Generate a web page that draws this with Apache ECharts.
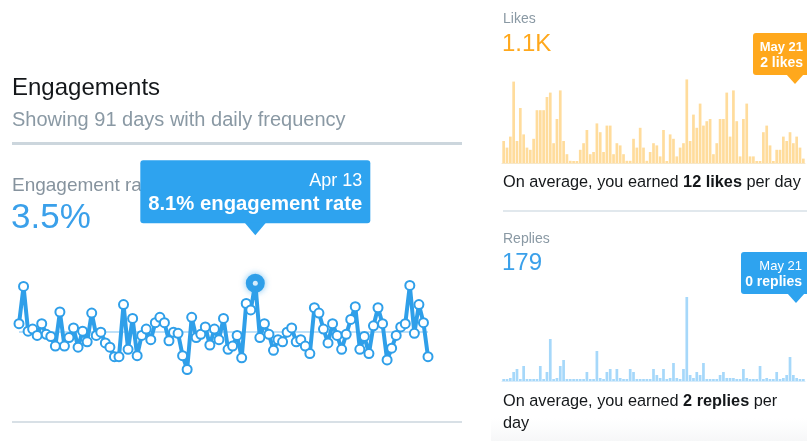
<!DOCTYPE html>
<html>
<head>
<meta charset="utf-8">
<script src="https://cdn.jsdelivr.net/npm/echarts@6/dist/echarts.min.js"></script>
<style>
  html, body { margin: 0; padding: 0; background: #fff; }
  #grafico { width: 807px; height: 441px; }
</style>
</head>
<body>
<div id="grafico"></div>
<script>
// Tasa de interacción diaria (%), 91 días
const tasaInteraccion = [4.3, 7.8, 3.6, 3.8, 3.2, 4.3, 3.3, 3.1, 2.2, 5.4,
  2.2, 3.0, 3.9, 2.1, 3.6, 2.6, 5.3, 3.2, 3.5, 2.5,
  2.1, 1.2, 1.2, 6.1, 1.9, 4.8, 1.3, 3.2, 3.8, 2.8,
  4.4, 4.9, 4.4, 2.7, 3.5, 3.4, 1.3, 0.0, 4.9, 3.0,
  3.3, 4.0, 2.3, 3.8, 2.8, 4.8, 1.9, 2.2, 3.2, 1.1,
  6.2, 5.6, 8.1, 3.0, 4.3, 3.3, 1.8, 2.8, 2.6, 3.5,
  3.9, 2.6, 2.8, 2.2, 1.5, 5.8, 5.3, 3.8, 2.5, 4.3,
  3.2, 1.9, 3.3, 4.7, 5.9, 1.9, 3.1, 1.5, 4.1, 5.8,
  4.3, 0.9, 2.0, 3.2, 4.0, 4.3, 7.9, 3.4, 6.1, 4.4, 1.2];

// Me gusta por día
const meGusta = [10, 7, 12, 37, 10, 25, 13, 7, 6, 11,
  24, 24, 24, 30, 32, 9, 20, 33, 10, 4,
  1, 0, 0, 6, 9, 15, 4, 5, 18, 14,
  5, 17, 17, 4, 9, 8, 4, 1, 1, 11,
  7, 16, 7, 1, 5, 9, 8, 3, 15, 0,
  13, 11, 3, 7, 9, 38, 10, 22, 16, 27,
  17, 19, 20, 4, 9, 20, 20, 32, 12, 33,
  19, 3, 20, 27, 3, 3, 0, 0, 14, 17,
  8, 0, 6, 6, 12, 10, 14, 9, 12, 7, 2];

// Respuestas por día
const respuestas = [0, 0, 1, 3, 4, 0, 5, 0, 0, 0,
  0, 5, 0, 3, 14, 0, 1, 5, 7, 0,
  0, 0, 0, 0, 0, 3, 0, 0, 10, 1,
  0, 3, 4, 0, 4, 1, 0, 0, 4, 3,
  0, 0, 0, 0, 0, 4, 2, 1, 4, 0,
  1, 6, 1, 0, 4, 28, 2, 1, 3, 2,
  6, 0, 0, 0, 0, 2, 3, 1, 1, 1,
  0, 0, 4, 1, 0, 0, 0, 5, 0, 1,
  0, 0, 3, 0, 1, 2, 8, 2, 1, 0, 0];

const tasaPromedio = 3.5;
const indiceDestacado = 52;   // Apr 13
const indiceFinal = 90;       // May 21

// Fechas: 91 días desde el 20 de febrero
const nombresMes = ['Jan', 'Feb', 'Mar', 'Apr', 'May', 'Jun', 'Jul', 'Aug', 'Sep', 'Oct', 'Nov', 'Dec'];
const fechas = tasaInteraccion.map((_, i) => {
  const d = new Date(2017, 1, 20 + i);
  return nombresMes[d.getMonth()] + ' ' + d.getDate();
});

const AZUL = '#2f9fe9';
const NARANJA = '#ffa81c';
const FUENTE = '"Helvetica Neue", Helvetica, Arial, "Liberation Sans", sans-serif';

const grafico = echarts.init(document.getElementById('grafico'));

function texto(x, y, contenido, tam, color, extra) {
  return {
    type: 'text', x: x, y: y, z: 50,
    style: Object.assign({
      text: contenido,
      font: tam + 'px ' + FUENTE,
      fill: color,
      align: 'left',
      verticalAlign: 'middle'
    }, extra || {})
  };
}

const datosLinea = tasaInteraccion.map((v, i) => i === indiceDestacado ? {
  value: v,
  symbolSize: 17,
  itemStyle: { color: AZUL, borderColor: AZUL, shadowBlur: 6, shadowColor: 'rgba(47,159,233,0.5)' }
} : v);

const puntoBlanco = tasaInteraccion.map((v, i) => i === indiceDestacado ? v : '-');

grafico.setOption({
  animation: false,
  backgroundColor: '#ffffff',
  grid: [
    { left: 19, right: 379, top: 279, height: 90.5 },
    { left: 502, right: 2, top: 75, height: 88 },
    { left: 502, right: 2, top: 291, height: 90 }
  ],
  xAxis: [
    { gridIndex: 0, type: 'category', data: fechas, boundaryGap: false, show: false },
    { gridIndex: 1, type: 'category', data: fechas,
      axisLine: { lineStyle: { color: '#f6e7c9', width: 1 } },
      axisTick: { show: false }, axisLabel: { show: false } },
    { gridIndex: 2, type: 'category', data: fechas,
      axisLine: { lineStyle: { color: '#d7ecfb', width: 1 } },
      axisTick: { show: false }, axisLabel: { show: false } }
  ],
  yAxis: [
    { gridIndex: 0, type: 'value', min: 0, max: 8.5, show: false },
    { gridIndex: 1, type: 'value', min: 0, max: 40, show: false },
    { gridIndex: 2, type: 'value', min: 0, max: 30, show: false }
  ],
  series: [
    {
      type: 'line',
      xAxisIndex: 0, yAxisIndex: 0,
      data: datosLinea,
      symbol: 'circle',
      symbolSize: 9,
      showSymbol: true,
      showAllSymbol: true,
      lineStyle: { color: AZUL, width: 4 },
      itemStyle: { color: '#ffffff', borderColor: AZUL, borderWidth: 2 },
      z: 3,
      markLine: {
        silent: true,
        symbol: ['none', 'none'],
        label: { show: false },
        lineStyle: { color: '#a9d6f6', width: 1.5, type: 'solid' },
        data: [{ yAxis: tasaPromedio }],
        z: 1
      }
    },
    {
      type: 'scatter',
      xAxisIndex: 0, yAxisIndex: 0,
      data: puntoBlanco,
      symbolSize: 5,
      itemStyle: { color: '#ffffff' },
      z: 5
    },
    {
      type: 'bar',
      xAxisIndex: 1, yAxisIndex: 1,
      data: meGusta,
      barWidth: 2.7,
      barMinHeight: 2,
      itemStyle: { color: '#ffdc9c' }
    },
    {
      type: 'bar',
      xAxisIndex: 2, yAxisIndex: 2,
      data: respuestas,
      barWidth: 2.7,
      barMinHeight: 2,
      itemStyle: { color: '#a6d8fa' }
    }
  ]
});

// Posiciones calculadas desde los datos para las etiquetas emergentes
const pDestacado = grafico.convertToPixel({ seriesIndex: 0 }, [indiceDestacado, tasaInteraccion[indiceDestacado]]);
const pLikes = grafico.convertToPixel({ seriesIndex: 2 }, [indiceFinal, meGusta[indiceFinal]]);
const pReplies = grafico.convertToPixel({ seriesIndex: 3 }, [indiceFinal, respuestas[indiceFinal]]);

const anchoTip = 230, altoTip = 63;
const tipX = pDestacado[0] - anchoTip / 2;
const tipBase = pDestacado[1] - 60;
const tipTop = tipBase - altoTip;

const puntaLikes = Math.min(pLikes[0], 795);
const puntaReplies = Math.min(pReplies[0], 796);

const negrita = (t) => 'bold ' + t + 'px ' + FUENTE;
const BLANCO = '#ffffff';

const elementos = [
  // fondo inferior derecho
  { type: 'rect', shape: { x: 491, y: 418, width: 316, height: 23 }, z: 0,
    style: { fill: new echarts.graphic.LinearGradient(0, 0, 0, 1, [
      { offset: 0, color: 'rgba(248,249,250,0)' }, { offset: 1, color: '#f6f7f8' }]) } },

  texto(12, 88, 'Engagements', 24, '#14171a'),
  texto(12, 120, 'Showing 91 days with daily frequency', 20, '#8a99a4'),
  { type: 'rect', shape: { x: 12, y: 142, width: 450, height: 3 }, style: { fill: '#ccd6dd' }, z: 50 },
  texto(12, 186, 'Engagement rate', 19, '#86939e'),
  texto(11, 218, tasaPromedio + '%', 35, '#3aa0ea'),
  { type: 'rect', shape: { x: 12, y: 421, width: 450, height: 2 }, style: { fill: '#d8e0e6' }, z: 50 },

  // tooltip izquierdo
  { type: 'rect', shape: { x: tipX, y: tipTop, width: anchoTip, height: altoTip, r: 3 }, style: { fill: '#2ea3ef' }, z: 60 },
  { type: 'polygon', shape: { points: [[pDestacado[0] - 11, tipBase - 1], [pDestacado[0] + 11, tipBase - 1], [pDestacado[0], tipBase + 12]] },
    style: { fill: '#2ea3ef' }, z: 60 },
  texto(tipX + anchoTip - 8, tipTop + 21, fechas[indiceDestacado], 18, BLANCO, { align: 'right' }),
  texto(tipX + anchoTip - 8, tipTop + 44, tasaInteraccion[indiceDestacado] + '% engagement rate', 20, BLANCO, { align: 'right', font: negrita(20.3) }),

  // Likes
  texto(503, 19, 'Likes', 14, '#8a99a4'),
  texto(502, 44, '1.1K', 24, NARANJA),
  { type: 'text', x: 503, y: 183, z: 50, style: {
      text: 'On average, you earned {b|12 likes} per day',
      font: '16.3px ' + FUENTE, fill: '#14171a', verticalAlign: 'middle',
      rich: { b: { font: negrita(16.3), fill: '#14171a' } } } },
  { type: 'rect', shape: { x: 503, y: 210, width: 304, height: 2 }, style: { fill: '#e1e8ed' }, z: 50 },
  { type: 'rect', shape: { x: 753, y: 33, width: 60, height: 42, r: 3 }, style: { fill: NARANJA }, z: 60 },
  { type: 'polygon', shape: { points: [[puntaLikes - 9, 74], [puntaLikes + 9, 74], [puntaLikes, 84]] }, style: { fill: NARANJA }, z: 60 },
  texto(803, 47, fechas[indiceFinal], 13, BLANCO, { align: 'right', font: negrita(13) }),
  texto(803, 63, meGusta[indiceFinal] + ' likes', 14, BLANCO, { align: 'right', font: negrita(14) }),

  // Replies
  texto(503, 239, 'Replies', 14, '#8a99a4'),
  texto(502, 263, '179', 24, '#3aa0ea'),
  { type: 'text', x: 503, y: 402, z: 50, style: {
      text: 'On average, you earned {b|2 replies} per',
      font: '16.3px ' + FUENTE, fill: '#14171a', verticalAlign: 'middle',
      rich: { b: { font: negrita(16.3), fill: '#14171a' } } } },
  texto(503, 424, 'day', 16.3, '#14171a'),
  { type: 'rect', shape: { x: 741, y: 252, width: 72, height: 42, r: 3 }, style: { fill: '#2ea3ef' }, z: 60 },
  { type: 'polygon', shape: { points: [[puntaReplies - 9, 293], [puntaReplies + 9, 293], [puntaReplies, 303]] }, style: { fill: '#2ea3ef' }, z: 60 },
  texto(802, 266, fechas[indiceFinal], 13, BLANCO, { align: 'right' }),
  texto(802, 282, respuestas[indiceFinal] + ' replies', 14, BLANCO, { align: 'right', font: negrita(14) })
];

// los textos de las etiquetas emergentes por encima del recuadro
elementos.forEach(e => { if (e.type === 'text' && e.style.fill === BLANCO) e.z = 70; });

grafico.setOption({ graphic: { elements: elementos } });

window.addEventListener('resize', () => grafico.resize());
</script>
</body>
</html>
